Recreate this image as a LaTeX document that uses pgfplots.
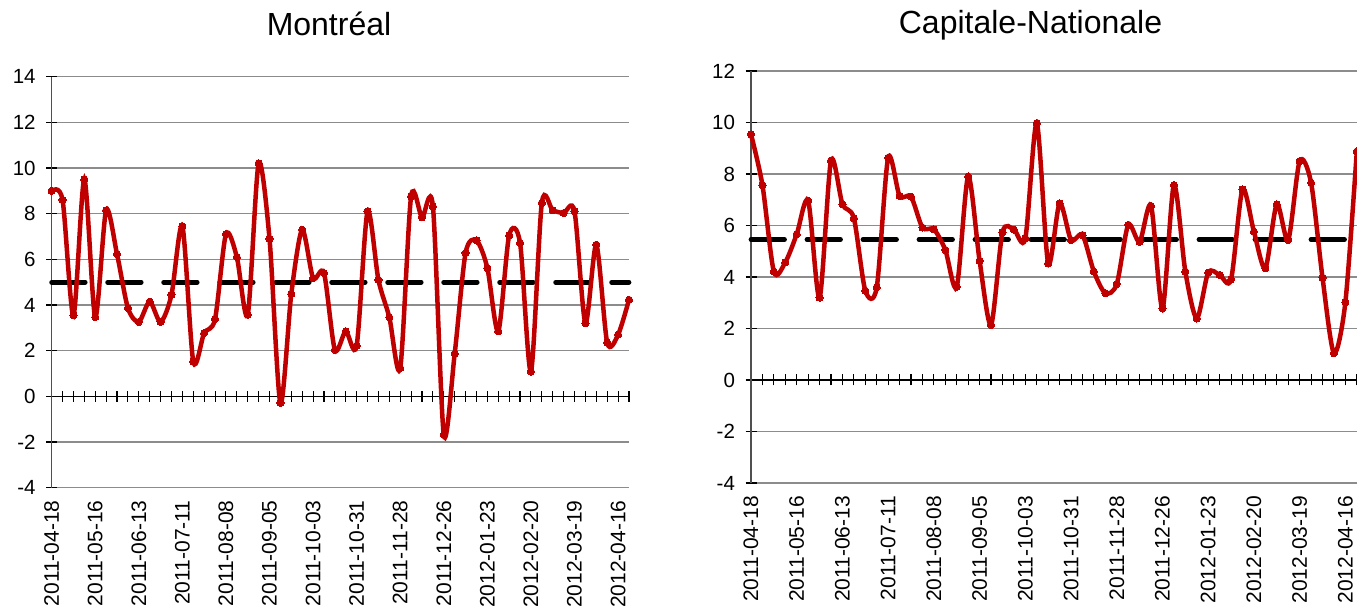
\documentclass[border=0pt]{standalone}
\usepackage{fontspec}
\setmainfont{Liberation Sans}
\usepackage{pgfplots}
\pgfplotsset{compat=1.18}
\definecolor{sred}{RGB}{192,0,0}
\definecolor{gridg}{RGB}{140,140,140}
\definecolor{axg}{RGB}{80,80,80}
\pgfplotsset{
  excel/.style={
    scale only axis,
    anchor=south west,
    xmin=0, xmax=53,
    axis x line=middle,
    axis y line=left,
    axis line style={-, axg, line width=1.5pt},
    x axis line style={black},
    hide obscured x ticks=false,
    hide obscured y ticks=false,
    tick align=center,
    major tick length=11pt,
    tick style={black, line width=1.1pt},
    xtick={0,...,53},
    xticklabels={2011-04-18,,,,2011-05-16,,,,2011-06-13,,,,2011-07-11,,,,2011-08-08,,,,2011-09-05,,,,2011-10-03,,,,2011-10-31,,,,2011-11-28,,,,2011-12-26,,,,2012-01-23,,,,2012-02-20,,,,2012-03-19,,,,2012-04-16,},
    xticklabel style={font=\fontsize{21}{21}\selectfont, rotate=90, anchor=east},
    yticklabel style={font=\fontsize{20.5}{20.5}\selectfont},
    yticklabel shift=7pt,
    /pgf/number format/assume math mode=true,
    ymajorgrids,
    grid style={gridg, line width=1.5pt},
    clip=false,
  },
  datastyle/.style={sred, line width=4.5pt, smooth, tension=0.47, mark=*, mark size=3.6pt, mark options={fill=sred, line width=0pt}},
  meanstyle/.style={black, line width=4.8pt, line cap=round, dash pattern=on 33.5pt off 22.5pt},
}
\begin{document}
\begin{tikzpicture}
\useasboundingbox (0,0) rectangle (1357pt,609pt);
\fill[white] (0,0) rectangle (1357pt,609pt);
\node[anchor=base, font=\fontsize{32}{32}\selectfont] at (329pt,573pt) {Montréal};
\node[anchor=base, font=\fontsize{32}{32}\selectfont] at (1030.5pt,575pt) {Capitale-Nationale};
\begin{axis}[excel, at={(51.67pt,121.3pt)}, width=577.3pt, height=411pt,
  ymin=-4, ymax=14, ytick={-4,-2,...,14}, xticklabel shift=95pt]
\addplot[meanstyle] coordinates {(0,5) (53,5)};
\addplot[datastyle] coordinates {
(0,9.0) (1,8.6) (2,3.55) (3,9.5) (4,3.47) (5,8.15) (6,6.23) (7,3.87) (8,3.26) (9,4.15)
(10,3.26) (11,4.45) (12,7.45) (13,1.53) (14,2.77) (15,3.39) (16,7.1) (17,6.1) (18,3.58) (19,10.2)
(20,6.9) (21,-0.29) (22,4.48) (23,7.3) (24,5.18) (25,5.4) (26,2.04) (27,2.85) (28,2.22) (29,8.1)
(30,5.1) (31,3.46) (32,1.24) (33,8.76) (34,7.84) (35,8.32) (36,-1.68) (37,1.87) (38,6.28) (39,6.83)
(40,5.62) (41,2.85) (42,7.05) (43,6.72) (44,1.09) (45,8.47) (46,8.15) (47,8.03) (48,8.1) (49,3.21)
(50,6.64) (51,2.36) (52,2.7) (53,4.23)};
\end{axis}
\begin{axis}[excel, at={(751pt,126pt)}, width=605.8pt, height=412pt,
  ymin=-4, ymax=12, ytick={-4,-2,...,12}, xticklabel shift=107pt]
\addplot[meanstyle] coordinates {(0,5.45) (53,5.45)};
\addplot[datastyle] coordinates {
(0,9.54) (1,7.57) (2,4.21) (3,4.57) (4,5.66) (5,6.96) (6,3.2) (7,8.52) (8,6.83) (9,6.28)
(10,3.47) (11,3.6) (12,8.63) (13,7.15) (14,7.12) (15,5.92) (16,5.85) (17,5.05) (18,3.62) (19,7.9)
(20,4.63) (21,2.14) (22,5.73) (23,5.84) (24,5.5) (25,9.97) (26,4.53) (27,6.86) (28,5.44) (29,5.63)
(30,4.21) (31,3.37) (32,3.73) (33,6.02) (34,5.37) (35,6.76) (36,2.78) (37,7.57) (38,4.21) (39,2.39)
(40,4.17) (41,4.08) (42,3.91) (43,7.4) (44,5.76) (45,4.34) (46,6.82) (47,5.44) (48,8.5) (49,7.66)
(50,3.97) (51,1.04) (52,3.02) (53,8.87)};
\end{axis}
\end{tikzpicture}
\end{document}
